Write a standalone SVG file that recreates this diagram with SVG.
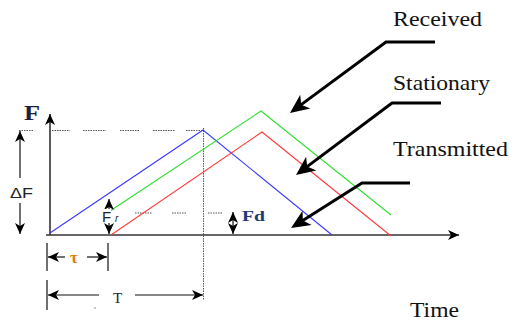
<svg xmlns="http://www.w3.org/2000/svg" width="516" height="325" viewBox="0 0 516 325">
<style>
.ax{stroke:#333;stroke-width:1.6;fill:none}
.dim{stroke:#111;stroke-width:1.2;fill:none}
.call{stroke:#000;stroke-width:3;fill:none}
.dot{stroke:#555;stroke-width:1;fill:none;stroke-dasharray:1.5 1}
.sig{stroke-width:1.1;fill:none}
.lbl{font-family:"Liberation Serif","Times New Roman",serif;font-size:22px;fill:#111}
.sans{font-family:"Liberation Sans",Arial,sans-serif;fill:#222}
</style>
<defs>
<marker id="ah" viewBox="-12 -6 13 12" refX="0" refY="0" markerWidth="13" markerHeight="12" markerUnits="userSpaceOnUse" orient="auto-start-reverse">
<path d="M0,0 L-11,-5 L-8,0 L-11,5 Z" fill="#000"/>
</marker>
<marker id="big" viewBox="-20 -9 21 18" refX="-6" refY="0" markerWidth="21" markerHeight="18" markerUnits="userSpaceOnUse" orient="auto">
<path d="M0,0 L-19,-8.5 L-14,0 L-19,8.5 Z" fill="#000"/>
</marker>
</defs>
<rect width="516" height="325" fill="#fff"/>

<g id="axes">
<line class="ax" x1="50" y1="235" x2="50" y2="114" marker-end="url(#ah)"/>
<line class="ax" x1="46" y1="235" x2="459" y2="235" marker-end="url(#ah)"/>
<text x="24" y="120" font-family="'Liberation Serif','Times New Roman',serif" font-weight="bold" font-size="22" fill="#1a2240" textLength="16" lengthAdjust="spacingAndGlyphs">F</text>
</g>

<g id="guides">
<path class="dot" d="M19,130.5 H33 M52,130.5 H70 M83,130.5 H106 M120,130.5 H140 M153,130.5 H175 M186,130.5 H203"/>
<line class="dot" x1="203.5" y1="128" x2="203.5" y2="300"/>
<path class="dot" d="M135,213 H152 M172,213 H187 M208,213 H222"/>
</g>

<g id="signals">
<polyline class="sig" stroke="#3a3aff" points="50,233 203,130 332,235"/>
<polyline class="sig" stroke="#2de02d" points="110,211 261,111 391,215"/>
<polyline class="sig" stroke="#ff3a3a" points="111,235 262,132 391,236"/>
</g>

<g id="deltaF">
<line class="dim" x1="20" y1="178" x2="20" y2="131" marker-end="url(#ah)"/>
<line class="dim" x1="20" y1="203" x2="20" y2="234" marker-end="url(#ah)"/>
<text class="sans" x="10" y="198" font-size="14" textLength="23" lengthAdjust="spacingAndGlyphs">ΔF</text>
</g>

<g id="Fr">
<line class="dim" x1="109" y1="199" x2="109" y2="234" marker-start="url(#ah)" marker-end="url(#ah)"/>
<rect x="102" y="209" width="9" height="14" fill="#fff"/>
<text class="sans" x="102" y="222" font-size="15">F</text>
<text class="sans" x="115" y="222" font-size="10" font-style="italic">r</text>
</g>

<g id="Fd">
<line class="dim" stroke-width="1.6" x1="233" y1="212" x2="233" y2="234" marker-start="url(#ah)" marker-end="url(#ah)"/>
<text x="242" y="221" font-family="'Liberation Serif','Times New Roman',serif" font-weight="bold" font-size="15" fill="#1c3a78" textLength="23" lengthAdjust="spacingAndGlyphs">Fd</text>
</g>

<g id="tau">
<line class="dim" x1="47" y1="243" x2="47" y2="271"/>
<line class="dim" x1="108" y1="243" x2="108" y2="271"/>
<line class="dim" x1="65" y1="257" x2="48" y2="257" marker-end="url(#ah)"/>
<line class="dim" x1="87" y1="257" x2="107" y2="257" marker-end="url(#ah)"/>
<text x="70" y="263" font-family="'Liberation Serif','Times New Roman',serif" font-weight="bold" font-size="17" fill="#e07a10">τ</text>
</g>

<g id="period">
<line class="dim" x1="47" y1="280" x2="47" y2="310"/>
<line class="dim" x1="99" y1="295" x2="48" y2="295" marker-end="url(#ah)"/>
<line class="dim" x1="135" y1="295" x2="203" y2="295" marker-end="url(#ah)"/>
<text x="113" y="303" font-family="'Liberation Serif','Times New Roman',serif" font-size="15" fill="#222">T</text>
<circle cx="95" cy="308" r="0.7" fill="#666"/>
</g>

<g id="callouts">
<polyline class="call" points="435,42 386,42 294.8,109.4" marker-end="url(#big)"/>
<polyline class="call" points="441,103 392,103 300.8,171.4" marker-end="url(#big)"/>
<polyline class="call" points="410,183 362,183 296.1,224.8" marker-end="url(#big)"/>
</g>

<g id="labels">
<text class="lbl" x="393" y="26" textLength="89" lengthAdjust="spacingAndGlyphs">Received</text>
<text class="lbl" x="393" y="90" textLength="97" lengthAdjust="spacingAndGlyphs">Stationary</text>
<text class="lbl" x="393" y="156" textLength="115" lengthAdjust="spacingAndGlyphs">Transmitted</text>
<text class="lbl" x="410" y="317" textLength="49" lengthAdjust="spacingAndGlyphs">Time</text>
</g>
</svg>
